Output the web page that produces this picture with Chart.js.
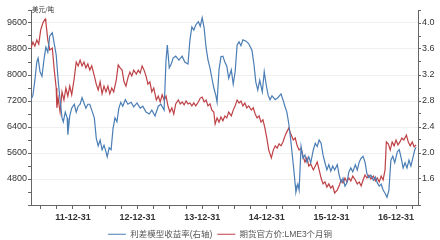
<!DOCTYPE html>
<html>
<head>
<meta charset="utf-8">
<script src="https://cdn.jsdelivr.net/npm/chart.js@4.4.1/dist/chart.umd.min.js"></script>
<style>
html, body { margin: 0; padding: 0; background: #fff; }
#wrap { width: 440px; height: 240px; }
</style>
</head>
<body>
<div id="wrap"><canvas id="myChart" width="440" height="240"></canvas></div>
<script>
// spread model return (right axis), dates as decimal years
const spreadDates = [
    2011.35, 2011.38, 2011.41, 2011.44, 2011.46, 2011.49, 2011.52, 2011.55, 2011.58, 2011.61,
    2011.64, 2011.68, 2011.71, 2011.74, 2011.77, 2011.80, 2011.83, 2011.85, 2011.88, 2011.91,
    2011.92, 2011.95, 2011.98, 2012.02, 2012.05, 2012.08, 2012.11, 2012.14, 2012.17, 2012.20,
    2012.23, 2012.26, 2012.29, 2012.33, 2012.36, 2012.39, 2012.42, 2012.45, 2012.48, 2012.51,
    2012.53, 2012.56, 2012.59, 2012.62, 2012.65, 2012.68, 2012.71, 2012.74, 2012.77, 2012.81,
    2012.85, 2012.90, 2012.94, 2012.99, 2013.04, 2013.08, 2013.13, 2013.18, 2013.22, 2013.27,
    2013.32, 2013.36, 2013.41, 2013.44, 2013.46, 2013.49, 2013.52, 2013.55, 2013.59, 2013.64,
    2013.69, 2013.73, 2013.78, 2013.81, 2013.84, 2013.87, 2013.90, 2013.94, 2013.97, 2014.00,
    2014.03, 2014.06, 2014.09, 2014.12, 2014.15, 2014.18, 2014.21, 2014.23, 2014.26, 2014.29,
    2014.32, 2014.35, 2014.38, 2014.41, 2014.45, 2014.48, 2014.51, 2014.54, 2014.57, 2014.60,
    2014.63, 2014.68, 2014.72, 2014.77, 2014.80, 2014.83, 2014.86, 2014.89, 2014.93, 2014.96,
    2014.99, 2015.02, 2015.05, 2015.08, 2015.13, 2015.17, 2015.22, 2015.25, 2015.28, 2015.31,
    2015.34, 2015.37, 2015.41, 2015.44, 2015.45, 2015.48, 2015.50, 2015.53, 2015.56, 2015.59,
    2015.62, 2015.65, 2015.68, 2015.72, 2015.75, 2015.78, 2015.81, 2015.84, 2015.87, 2015.90,
    2015.93, 2015.96, 2015.99, 2016.02, 2016.05, 2016.09, 2016.12, 2016.15, 2016.18, 2016.21,
    2016.24, 2016.27, 2016.30, 2016.33, 2016.37, 2016.40, 2016.43, 2016.46, 2016.49, 2016.52,
    2016.55, 2016.58, 2016.61, 2016.65, 2016.68, 2016.71, 2016.74, 2016.77, 2016.80, 2016.83,
    2016.86, 2016.89, 2016.92, 2016.95, 2016.98, 2017.02, 2017.05, 2017.08, 2017.11, 2017.14,
    2017.17, 2017.20, 2017.23, 2017.26, 2017.29, 2017.31
];
const spreadValues = [
    2.82, 2.89, 3.12, 3.40, 3.46, 3.25, 3.18, 3.43, 3.63, 3.55,
    3.80, 3.85, 3.68, 3.51, 3.12, 2.82, 2.54, 2.48, 2.63, 2.54,
    2.28, 2.57, 2.69, 2.75, 2.63, 2.72, 2.75, 2.85, 2.77, 2.69,
    2.75, 2.75, 2.66, 2.54, 2.23, 2.11, 2.20, 2.05, 2.12, 2.02,
    1.94, 2.08, 2.05, 2.38, 2.54, 2.48, 2.69, 2.78, 2.72, 2.82,
    2.75, 2.78, 2.71, 2.77, 2.69, 2.72, 2.63, 2.60, 2.66, 2.57,
    2.72, 2.75, 2.66, 3.43, 3.66, 3.31, 3.37, 3.46, 3.49, 3.43,
    3.49, 3.40, 3.37, 3.74, 3.94, 3.89, 3.97, 4.02, 3.95, 4.08,
    3.92, 3.62, 3.43, 3.31, 3.15, 3.00, 2.89, 2.78, 3.28, 3.48,
    3.49, 3.40, 3.34, 3.15, 3.28, 3.06, 3.25, 3.66, 3.71, 3.65,
    3.74, 3.72, 3.68, 3.58, 3.37, 3.09, 2.97, 3.12, 2.94, 3.25,
    3.05, 2.89, 2.82, 2.88, 2.82, 2.85, 2.91, 2.82, 2.72, 2.63,
    2.45, 2.20, 1.82, 1.51, 1.40, 1.52, 1.43, 2.10, 1.92, 1.97,
    1.86, 1.94, 1.85, 2.05, 2.15, 2.10, 2.20, 2.15, 1.97, 1.85,
    1.74, 1.82, 1.72, 1.80, 1.74, 1.82, 1.66, 1.55, 1.61, 1.49,
    1.54, 1.71, 1.77, 1.71, 1.82, 1.74, 1.86, 1.92, 1.95, 1.86,
    1.68, 1.62, 1.66, 1.58, 1.63, 1.54, 1.49, 1.52, 1.43, 1.38,
    1.32, 1.43, 1.89, 1.95, 1.85, 2.02, 2.05, 1.92, 1.77, 1.85,
    1.77, 1.89, 1.80, 1.92, 2.05, 2.09
];

// LME 3 month copper, USD/t (left axis)
const copperDates = [
    2011.35, 2011.38, 2011.41, 2011.44, 2011.47, 2011.50, 2011.54, 2011.57, 2011.58, 2011.61,
    2011.64, 2011.68, 2011.71, 2011.74, 2011.75, 2011.77, 2011.80, 2011.83, 2011.86, 2011.89,
    2011.92, 2011.95, 2011.98, 2012.02, 2012.05, 2012.08, 2012.11, 2012.14, 2012.17, 2012.20,
    2012.23, 2012.26, 2012.29, 2012.33, 2012.36, 2012.39, 2012.42, 2012.45, 2012.48, 2012.51,
    2012.54, 2012.57, 2012.60, 2012.63, 2012.67, 2012.70, 2012.73, 2012.76, 2012.79, 2012.82,
    2012.85, 2012.88, 2012.91, 2012.94, 2012.98, 2013.01, 2013.04, 2013.07, 2013.10, 2013.13,
    2013.16, 2013.19, 2013.22, 2013.25, 2013.29, 2013.32, 2013.35, 2013.38, 2013.41, 2013.44,
    2013.47, 2013.50, 2013.53, 2013.56, 2013.59, 2013.63, 2013.66, 2013.69, 2013.72, 2013.75,
    2013.78, 2013.81, 2013.84, 2013.87, 2013.90, 2013.94, 2013.97, 2014.00, 2014.03, 2014.06,
    2014.09, 2014.12, 2014.15, 2014.18, 2014.20, 2014.23, 2014.26, 2014.29, 2014.32, 2014.35,
    2014.38, 2014.41, 2014.45, 2014.48, 2014.51, 2014.54, 2014.57, 2014.60, 2014.63, 2014.66,
    2014.69, 2014.72, 2014.76, 2014.79, 2014.82, 2014.85, 2014.88, 2014.91, 2014.94, 2014.97,
    2015.00, 2015.03, 2015.07, 2015.10, 2015.13, 2015.16, 2015.19, 2015.22, 2015.25, 2015.28,
    2015.31, 2015.34, 2015.37, 2015.41, 2015.44, 2015.47, 2015.50, 2015.53, 2015.56, 2015.59,
    2015.62, 2015.65, 2015.68, 2015.72, 2015.75, 2015.78, 2015.81, 2015.84, 2015.87, 2015.90,
    2015.93, 2015.96, 2015.99, 2016.02, 2016.05, 2016.09, 2016.12, 2016.15, 2016.18, 2016.21,
    2016.24, 2016.27, 2016.30, 2016.33, 2016.37, 2016.40, 2016.43, 2016.46, 2016.49, 2016.52,
    2016.55, 2016.58, 2016.61, 2016.65, 2016.68, 2016.71, 2016.74, 2016.77, 2016.80, 2016.83,
    2016.85, 2016.88, 2016.91, 2016.94, 2016.97, 2017.00, 2017.03, 2017.06, 2017.09, 2017.12,
    2017.16, 2017.19, 2017.22, 2017.25, 2017.28, 2017.31
];
const copperValues = [
    8830, 9010, 8890, 9080, 8950, 9390, 9630, 9720, 9630, 9080,
    8770, 8830, 8150, 7600, 6990, 7290, 6860, 7480, 7230, 7600,
    7350, 7660, 7390, 7910, 8400, 8280, 8460, 8280, 8400, 8220,
    8340, 8150, 8280, 7970, 7720, 7540, 7790, 7420, 7660, 7480,
    7660, 7420, 7600, 7480, 7850, 8310, 8220, 8150, 7790, 7660,
    7910, 8090, 7970, 8150, 8030, 8150, 8060, 8280, 8150, 7970,
    7720, 7790, 7480, 7600, 7230, 7350, 7170, 7390, 7230, 7350,
    7050, 6860, 6990, 6800, 7110, 7230, 7110, 7170, 7080, 7200,
    7110, 7140, 7050, 7140, 7050, 7170, 7290, 7320, 7170, 7230,
    7050, 7110, 6920, 6860, 6490, 6680, 6550, 6710, 6590, 6740,
    6680, 6860, 6740, 6920, 7050, 7230, 7140, 7200, 7050, 7140,
    6990, 7050, 6920, 6990, 6800, 6680, 6740, 6550, 6620, 6370,
    6060, 5690, 5450, 5690, 5820, 5750, 5880, 5820, 5940, 6120,
    6250, 6370, 6190, 6000, 6060, 5820, 5690, 5750, 5510, 5320,
    5450, 5200, 5260, 5080, 5200, 5320, 5080, 4830, 4650, 4710,
    4550, 4650, 4520, 4590, 4370, 4460, 4590, 4770, 4680, 4830,
    4710, 4830, 4740, 4890, 4770, 4650, 4710, 4590, 4770, 4920,
    4830, 4920, 4800, 4890, 4740, 4830, 4710, 4890, 4770, 5080,
    5940, 5880, 5690, 5940, 5820, 6000, 5850, 5940, 6060, 6000,
    6150, 5940, 5820, 5940, 5790, 5850
];

const yearTicks = [2012, 2013, 2014, 2015, 2016, 2017];
const yearLabels = ['11-12-31', '12-12-31', '13-12-31', '14-12-31', '15-12-31', '16-12-31'];
const leftLabels = [4800, 5600, 6400, 7200, 8000, 8800, 9600];
const rightLabels = [1.6, 2.0, 2.4, 2.8, 3.2, 3.6, 4.0];

const blue = '#4a7eb5';
const red = '#be4146';
const axisColor = '#666';

Chart.defaults.font.family = "'Liberation Sans', 'Noto Sans CJK SC', sans-serif";
Chart.defaults.color = '#333';

function toPoints(xs, ys) {
    const pts = [];
    for (let i = 0; i < xs.length; i++) {
        pts.push({ x: xs[i], y: ys[i] });
    }
    return pts;
}

function stepTicks(min, max, step) {
    const out = [];
    for (let v = min; v <= max + step / 2; v += step) {
        out.push({ value: Math.round(v * 1000) / 1000 });
    }
    return out;
}

const unitLabel = {
    id: 'unitLabel',
    afterDraw(chart) {
        const ctx = chart.ctx;
        ctx.save();
        ctx.font = "6.5px 'Noto Sans CJK SC'";
        ctx.fillStyle = '#333';
        ctx.textBaseline = 'middle';
        ctx.fillText('美元/吨', chart.chartArea.left + 1, chart.chartArea.top);
        ctx.restore();
    }
};

const canvas = document.querySelector('#myChart').getContext('2d');
const chart = new Chart(canvas, {
    type: 'line',
    data: {
        datasets: [{
            label: '利差模型收益率(右轴)',
            data: toPoints(spreadDates, spreadValues),
            yAxisID: 'yRight',
            borderColor: blue,
            backgroundColor: blue,
            borderWidth: 1.2,
            pointRadius: 0,
            tension: 0
        }, {
            label: '期货官方价:LME3个月铜',
            data: toPoints(copperDates, copperValues),
            yAxisID: 'yLeft',
            borderColor: red,
            backgroundColor: red,
            borderWidth: 1.2,
            pointRadius: 0,
            tension: 0
        }]
    },
    options: {
        responsive: false,
        animation: false,
        devicePixelRatio: 1,
        layout: { padding: { top: 10, left: 0, right: 0, bottom: -8.5 } },
        plugins: {
            tooltip: { enabled: false },
            legend: {
                position: 'bottom',
                labels: {
                    usePointStyle: true,
                    pointStyle: 'line',
                    pointStyleWidth: 18,
                    padding: 5,
                    color: '#555',
                    font: { size: 8.5 }
                }
            }
        },
        scales: {
            x: {
                type: 'linear',
                min: 2011.35,
                max: 2017.34,
                afterBuildTicks: (axis) => { axis.ticks = stepTicks(2011.5, 2017.25, 0.25); },
                afterFit: (axis) => { axis.height = 20; },
                border: { color: axisColor },
                grid: { drawOnChartArea: false, tickLength: 4, tickColor: axisColor },
                ticks: {
                    autoSkip: false,
                    maxRotation: 0,
                    padding: 3,
                    color: '#333',
                    font: { size: 9, weight: 'bold' },
                    callback: (v) => {
                        const i = yearTicks.indexOf(v);
                        return i >= 0 ? yearLabels[i] : '';
                    }
                }
            },
            yLeft: {
                position: 'left',
                min: 4000,
                max: 10000,
                afterBuildTicks: (axis) => { axis.ticks = stepTicks(4000, 10000, 400); },
                afterFit: (axis) => { axis.width = 31; },
                border: { color: axisColor },
                grid: {
                    tickLength: 3,
                    tickColor: axisColor,
                    color: (ctx) => (ctx.tick && leftLabels.includes(ctx.tick.value)) ? '#efefef' : 'rgba(0,0,0,0)'
                },
                ticks: {
                    autoSkip: false,
                    padding: 1,
                    font: { size: 9 },
                    callback: (v) => leftLabels.includes(v) ? String(v) : ''
                }
            },
            yRight: {
                position: 'right',
                min: 1.2,
                max: 4.2,
                afterBuildTicks: (axis) => { axis.ticks = stepTicks(1.2, 4.2, 0.2); },
                afterFit: (axis) => { axis.width = 22; },
                border: { color: axisColor },
                grid: { drawOnChartArea: false, tickLength: 3, tickColor: axisColor },
                ticks: {
                    autoSkip: false,
                    padding: 1,
                    font: { size: 9 },
                    callback: (v) => rightLabels.some(r => Math.abs(r - v) < 0.001) ? v.toFixed(1) : ''
                }
            }
        }
    },
    plugins: [unitLabel]
});
</script>
</body>
</html>
